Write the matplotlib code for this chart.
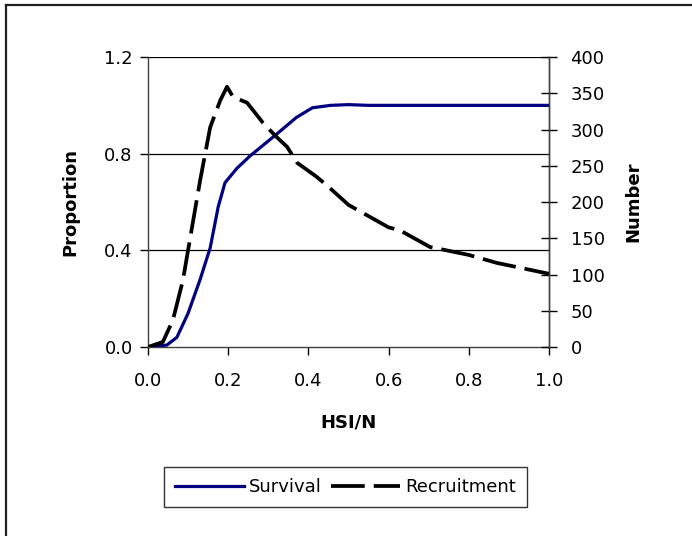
import matplotlib
matplotlib.use("Agg")
import matplotlib.pyplot as plt
from matplotlib.lines import Line2D

plt.rcParams['font.family'] = ['DejaVu Sans']

# ======================================
# Data
# ======================================
survival_x = [0.0, 0.047, 0.072, 0.10, 0.13, 0.155, 0.175, 0.192, 0.222, 0.254,
              0.32, 0.37, 0.41, 0.455, 0.50, 0.55, 0.70, 0.85, 1.0]
survival_p = [0.0, 0.008, 0.04, 0.14, 0.28, 0.41, 0.58, 0.68, 0.74, 0.79,
              0.88, 0.95, 0.99, 1.0, 1.003, 1.0, 1.0, 1.0, 1.0]

recruit_x = [0.0, 0.037, 0.062, 0.087, 0.11, 0.13, 0.155, 0.18, 0.197, 0.212,
             0.247, 0.287, 0.32, 0.347, 0.372, 0.42, 0.45, 0.50, 0.60, 0.628,
             0.703, 0.80, 0.87, 1.0]
recruit_n = [0, 7, 37, 92, 166, 230, 303, 340, 359, 345,
             337, 309, 290, 276, 254, 235, 221, 196, 165, 161,
             138, 127, 116, 101]

x_ticks = [0.0, 0.2, 0.4, 0.6, 0.8, 1.0]
left_ticks = [0.0, 0.4, 0.8, 1.2]
right_ticks = [0, 50, 100, 150, 200, 250, 300, 350, 400]

# ======================================
# Figure
# ======================================
fig = plt.figure(figsize=(6.92, 5.36), dpi=100)
# chart frame: only top and left edges show in the reference
fig.lines.append(Line2D([0.0087, 1.0], [0.9907, 0.9907], transform=fig.transFigure,
                        color='#202020', lw=1.6))
fig.lines.append(Line2D([0.0087, 0.0087], [0.0, 0.9907], transform=fig.transFigure,
                        color='#202020', lw=1.6))

ax = fig.add_axes([0.2139, 0.3526, 0.5795, 0.5410])
ax2 = ax.twinx()

ax.plot(survival_x, survival_p, color='#000080', lw=2.3, label='Survival', zorder=3)
ax2.plot(recruit_x, recruit_n, color='black', lw=2.7, dashes=(9, 2.4), label='Recruitment')

ax.set_xlim(0, 1.0)
ax.set_ylim(0, 1.2)
ax2.set_ylim(0, 400)

ax.set_xticks(x_ticks)
ax.set_xticklabels([f"{v:.1f}" for v in x_ticks])
ax.set_yticks(left_ticks)
ax.set_yticklabels([f"{v:.1f}" for v in left_ticks])
ax2.set_yticks(right_ticks)

for y in left_ticks[1:]:
    ax.axhline(y, color='black', lw=0.9, zorder=1)

for a in (ax, ax2):
    a.spines['top'].set_visible(False)
    for s in a.spines.values():
        s.set_color('#404040')
        s.set_linewidth(1.0)
ax2.spines['left'].set_visible(False)
ax2.spines['bottom'].set_visible(False)

ax.tick_params(axis='x', labelsize=13, direction='out', length=6, width=1, pad=12)
ax.tick_params(axis='y', labelsize=13, direction='out', length=6, width=1, pad=5)
ax2.tick_params(axis='y', labelsize=13, direction='inout', length=11, width=1, pad=10)

ax.set_xlabel('HSI/N', fontsize=13, fontweight='bold', labelpad=17)
ax.set_ylabel('Proportion', fontsize=13, fontweight='bold', labelpad=18)
ax2.set_ylabel('Number', fontsize=13, fontweight='bold', labelpad=14, rotation=90)

h1, l1 = ax.get_legend_handles_labels()
h2, l2 = ax2.get_legend_handles_labels()
leg = fig.legend(h1 + h2, l1 + l2, loc='center', bbox_to_anchor=(0.4993, 0.0914),
                 ncol=2, fontsize=13, frameon=True, fancybox=False,
                 handlelength=3.8, handletextpad=0.3, columnspacing=0.5,
                 borderpad=0.6, borderaxespad=0)
leg.get_frame().set_edgecolor('black')
leg.get_frame().set_linewidth(1.0)

fig.savefig('out.png', dpi=100)
